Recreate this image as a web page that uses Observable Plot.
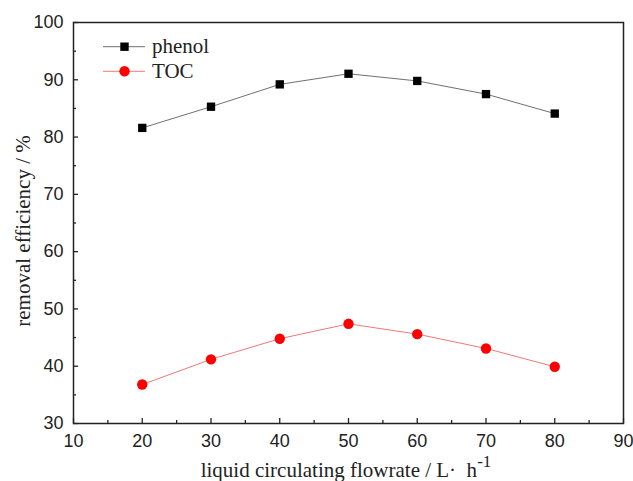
<!DOCTYPE html>
<html>
<head>
<meta charset="utf-8">
<script src="https://cdn.jsdelivr.net/npm/d3@7"></script>
<script src="https://cdn.jsdelivr.net/npm/@observablehq/plot@0.6"></script>
<style>
  html, body { margin: 0; padding: 0; background: #fff; }
  #chart svg { display: block; }
</style>
</head>
<body>
<div id="chart"></div>
<script>
const flowrate = [20, 30, 40, 50, 60, 70, 80];
const phenol = [81.6, 85.3, 89.2, 91.05, 89.8, 87.5, 84.1];
const toc = [36.8, 41.2, 44.8, 47.4, 45.6, 43.1, 39.9];
const xMajorTicks = [10, 20, 30, 40, 50, 60, 70, 80, 90];
const xMinorTicks = [15, 25, 35, 45, 55, 65, 75, 85];
const yMajorTicks = [30, 40, 50, 60, 70, 80, 90, 100];
const yMinorTicks = [35, 45, 55, 65, 75, 85, 95];
const seriesNames = ["phenol", "TOC"];

const phenolData = flowrate.map((x, i) => ({x, y: phenol[i]}));
const tocData = flowrate.map((x, i) => ({x, y: toc[i]}));

const W = 633, H = 481;
const mL = 73, mR = 10, mT = 22, mB = 58;

const plot = Plot.plot({
  width: W, height: H,
  marginLeft: mL, marginRight: mR, marginTop: mT, marginBottom: mB,
  style: {fontFamily: "'Liberation Sans', Arial, sans-serif", fontSize: "18px", background: "#fff", color: "#222"},
  x: {domain: [10, 90]},
  y: {domain: [30, 100]},
  marks: [
    Plot.axisX(xMajorTicks, {tickSize: -5, tickPadding: 16, label: null, strokeWidth: 1.3}),
    Plot.axisX(xMinorTicks, {tickSize: -3, tickFormat: () => "", label: null, strokeWidth: 1.3}),
    Plot.axisY(yMajorTicks, {tickSize: -5, tickPadding: 15, label: null, strokeWidth: 1.3}),
    Plot.axisY(yMinorTicks, {tickSize: -3, tickFormat: () => "", label: null, strokeWidth: 1.3}),
    Plot.line(phenolData, {x: "x", y: "y", stroke: "#707070", strokeWidth: 1}),
    Plot.dot(phenolData, {x: "x", y: "y", symbol: "square", r: 4.7, fill: "#000", stroke: "none"}),
    Plot.line(tocData, {x: "x", y: "y", stroke: "#f07878", strokeWidth: 1}),
    Plot.dot(tocData, {x: "x", y: "y", symbol: "circle", r: 5.2, fill: "#ff0000", stroke: "none"}),
    Plot.frame({stroke: "#222", strokeWidth: 1.5})
  ]
});

const svg = d3.select(plot);
const serif = "'Liberation Serif', 'Times New Roman', serif";

// axis titles
svg.append("text")
  .attr("transform", `translate(25, 231) rotate(-90)`)
  .attr("text-anchor", "middle")
  .attr("dominant-baseline", "middle")
  .attr("font-family", serif)
  .attr("font-size", 21)
  .attr("fill", "#222")
  .text("removal efficiency / %");

const xl = svg.append("text")
  .attr("x", 346).attr("y", 477)
  .attr("text-anchor", "middle")
  .attr("font-family", serif)
  .attr("font-size", 21)
  .attr("fill", "#222");
xl.append("tspan").text("liquid circulating flowrate / L\u00B7  h");
xl.append("tspan").attr("dy", -10).attr("font-size", 17).text("-1");

// legend
const leg = svg.append("g").attr("transform", `translate(${mL}, ${mT})`);
const legendItems = [
  {name: seriesNames[0], y: 24.7, line: "#707070", fill: "#000", sym: "square"},
  {name: seriesNames[1], y: 49.3, line: "#f07878", fill: "#ff0000", sym: "circle"}
];
legendItems.forEach(it => {
  leg.append("line").attr("x1", 30).attr("x2", 72).attr("y1", it.y).attr("y2", it.y)
    .attr("stroke", it.line).attr("stroke-width", 1);
  if (it.sym === "square") {
    leg.append("rect").attr("x", 51.5 - 4.2).attr("y", it.y - 4.2).attr("width", 8.4).attr("height", 8.4).attr("fill", it.fill);
  } else {
    leg.append("circle").attr("cx", 51.5).attr("cy", it.y).attr("r", 5.2).attr("fill", it.fill);
  }
  leg.append("text").attr("x", 79).attr("y", it.y).attr("dy", "0.32em")
    .attr("text-anchor", "start")
    .attr("font-family", serif).attr("font-size", 21).attr("fill", "#222").text(it.name);
});

document.getElementById("chart").appendChild(plot);
</script>
</body>
</html>
